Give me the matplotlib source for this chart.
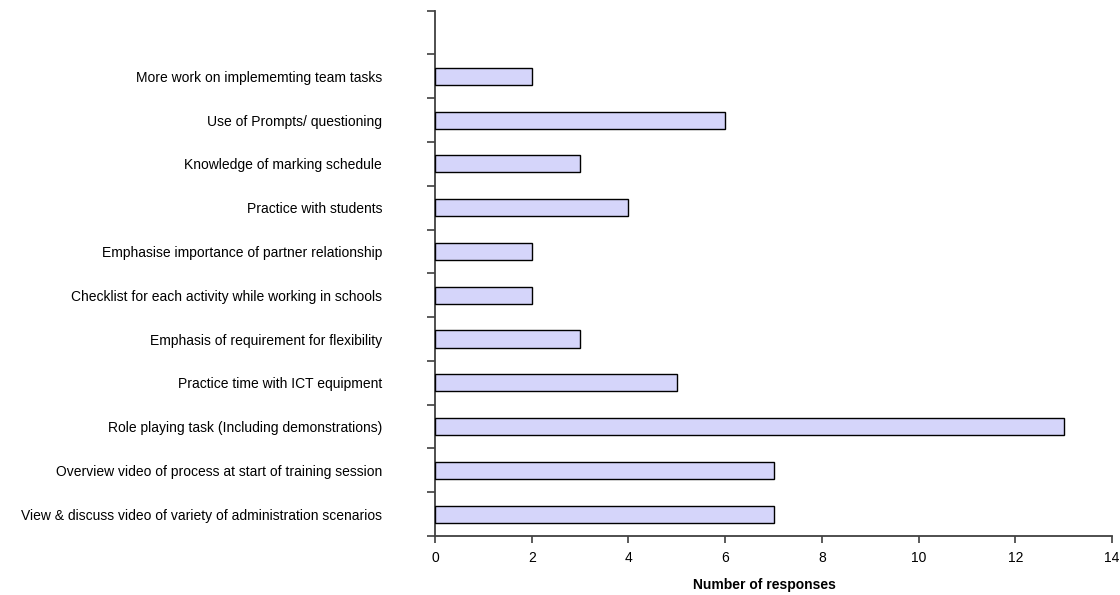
import matplotlib
matplotlib.use("Agg")
import matplotlib.pyplot as plt
import numpy as np

plt.rcParams['font.family'] = ['Liberation Sans', 'DejaVu Sans']

categories = [
    "View & discuss video of variety of administration scenarios",
    "Overview video of process at start of training session",
    "Role playing task (Including demonstrations)",
    "Practice time with ICT equipment",
    "Emphasis of requirement for flexibility",
    "Checklist for each activity while working in schools",
    "Emphasise importance of partner relationship",
    "Practice with students",
    "Knowledge of marking schedule",
    "Use of Prompts/ questioning",
    "More work on implememting team tasks",
]
values = [7, 7, 13, 5, 3, 2, 2, 4, 3, 6, 2]
xticks = [0, 2, 4, 6, 8, 10, 12, 14]
xlabel = "Number of responses"

fig = plt.figure(figsize=(11.2, 5.95), dpi=100)
ax = fig.add_axes([435/1120, 1 - 536/595, (1112 - 435)/1120, (536 - 10.7)/595])

pos = np.arange(len(categories))
ax.barh(pos, values, height=0.39, color='#d5d5fa', edgecolor='black', linewidth=1.0, zorder=3)

ax.set_xlim(0, 14)
ax.set_ylim(-0.5, len(categories) + 0.5)
ax.set_xticks(xticks)
ax.set_xticklabels([str(t) for t in xticks], fontsize=10)

ax.set_yticks(pos)
ax.set_yticklabels(categories, fontsize=10)
ax.set_yticks(np.arange(-0.5, len(categories) + 1.0, 1.0), minor=True)
ax.tick_params(axis='y', which='major', length=0, pad=38)
ax.tick_params(axis='y', which='minor', length=6, width=1.2, color='#404040', direction='out')
ax.tick_params(axis='x', which='major', length=5, width=1.2, color='#404040', direction='out', pad=6)

for s in ['top', 'right']:
    ax.spines[s].set_visible(False)
for s in ['left', 'bottom']:
    ax.spines[s].set_color('#404040')
    ax.spines[s].set_linewidth(1.3)

ax.set_xlabel(xlabel, fontsize=10, fontweight='bold')
ax.xaxis.set_label_coords(0.487, -0.08)

fig.savefig("out.png", dpi=100)
